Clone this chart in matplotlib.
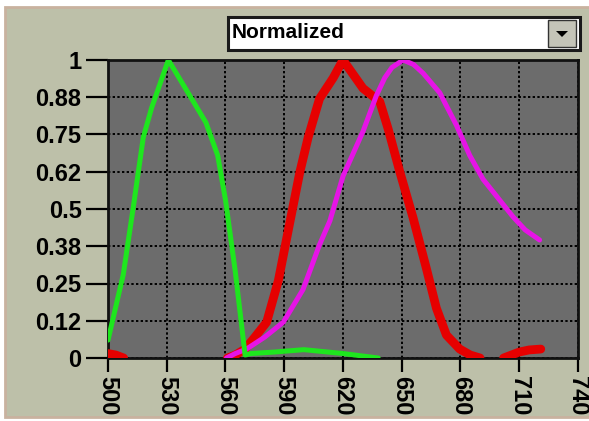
import numpy as np
import matplotlib
matplotlib.use("Agg")
import matplotlib.pyplot as plt
from matplotlib.patches import Rectangle, Polygon

# wavelength (nm) vs normalized response
green_x = [500, 507.8, 513, 518, 522.3, 530.8, 541.8, 550, 556, 560, 565, 570,
           573, 585, 600, 620, 638]
green_y = [0.06, 0.28, 0.51, 0.74, 0.84, 1.0, 0.88, 0.79, 0.68, 0.53, 0.29, 0.01,
           0.015, 0.02, 0.028, 0.015, 0.0]

red_x = [500, 504, 508, np.nan, 561, 565, 570, 575, 581, 587, 593, 598, 602.2,
         608, 615, 620, 630.2, 638.8, 643, 649, 655.8, 662.6, 667.7, 672.8,
         679.6, 685, 690, np.nan, 702, 706, 710, 715, 721]
red_y = [0.015, 0.01, 0.0, np.nan, 0.0, 0.01, 0.03, 0.07, 0.12, 0.26, 0.46, 0.625,
         0.74, 0.87, 0.94, 1.0, 0.905, 0.86, 0.77, 0.625, 0.47, 0.30, 0.167, 0.077,
         0.03, 0.01, 0.0, np.nan, 0.0, 0.01, 0.02, 0.027, 0.03]

magenta_x = [560.5, 565, 570.7, 580, 589.5, 599.6, 608, 613.3, 620, 630.2, 637,
             641.3, 645, 650.7, 656, 661, 669.4, 678, 684.7, 691.5, 700, 706.8,
             713, 720.4]
magenta_y = [0.0, 0.015, 0.03, 0.07, 0.12, 0.23, 0.38, 0.46, 0.61, 0.76, 0.88,
             0.94, 0.975, 1.0, 0.985, 0.955, 0.89, 0.78, 0.68, 0.60, 0.53,
             0.474, 0.43, 0.396]

x_ticks = [500, 530, 560, 590, 620, 650, 680, 710, 740]
y_ticks = [0, 0.125, 0.25, 0.375, 0.5, 0.625, 0.75, 0.875, 1]
y_labels = ["0", "0.12", "0.25", "0.38", "0.5", "0.62", "0.75", "0.88", "1"]
mode_label = "Normalized"

W, H = 589, 421
plt.rcParams["font.family"] = ["Liberation Sans", "DejaVu Sans"]

fig = plt.figure(figsize=(W / 100, H / 100), dpi=100, facecolor="white")

# window panel (behind the axes)
fig.add_artist(Rectangle((5 / W, 1 - 417 / H), 590 / W, 410 / H,
                         transform=fig.transFigure, facecolor="#bdc0a9",
                         edgecolor="#c9b29f", linewidth=2, zorder=-5))

# dropdown box
fig.add_artist(Rectangle((228 / W, 1 - 50 / H), 352 / W, 33 / H,
                         transform=fig.transFigure, facecolor="white",
                         edgecolor="#1a1a1a", linewidth=2.2))
fig.add_artist(Rectangle((548 / W, 1 - 47 / H), 28 / W, 27 / H,
                         transform=fig.transFigure, facecolor="#c4c4b8",
                         edgecolor="#333333", linewidth=1))
fig.add_artist(Polygon([(556 / W, 1 - 31 / H), (568 / W, 1 - 31 / H),
                        (562 / W, 1 - 37 / H)], closed=True,
                       transform=fig.transFigure, facecolor="black"))
fig.text(232 / W, 1 - 33 / H, mode_label, fontsize=15, fontweight="bold",
         va="center", ha="left", color="black")

ax = fig.add_axes([108 / W, 1 - 358 / H, 470 / W, 298 / H])
ax.set_facecolor("#6c6c6c")

ax.plot(red_x, red_y, color="#e60000", linewidth=6.3, solid_capstyle="round",
        solid_joinstyle="round", zorder=3)
ax.plot(magenta_x, magenta_y, color="#e614e6", linewidth=3.6, solid_capstyle="round",
        solid_joinstyle="round", zorder=4)
ax.plot(green_x, green_y, color="#1ee61e", linewidth=3.6, solid_capstyle="round",
        solid_joinstyle="round", zorder=5)

ax.set_xlim(500, 740)
ax.set_ylim(0, 1)
ax.set_xticks(x_ticks)
ax.set_xticklabels([str(v) for v in x_ticks], rotation=270, fontsize=17,
                   fontweight="bold")
ax.set_yticks(y_ticks)
ax.set_yticklabels(y_labels, fontsize=17, fontweight="bold")
ax.tick_params(axis="y", length=16, width=1.6, pad=3, color="black")
ax.tick_params(axis="x", length=10, width=1.6, pad=3, color="black")

ax.grid(True, color="black", linestyle=(0, (1.2, 1.2)), linewidth=1.4)
ax.set_axisbelow(True)
for s in ax.spines.values():
    s.set_linewidth(2)
    s.set_color("#111111")

fig.savefig("out.png", dpi=100, facecolor=fig.get_facecolor())
